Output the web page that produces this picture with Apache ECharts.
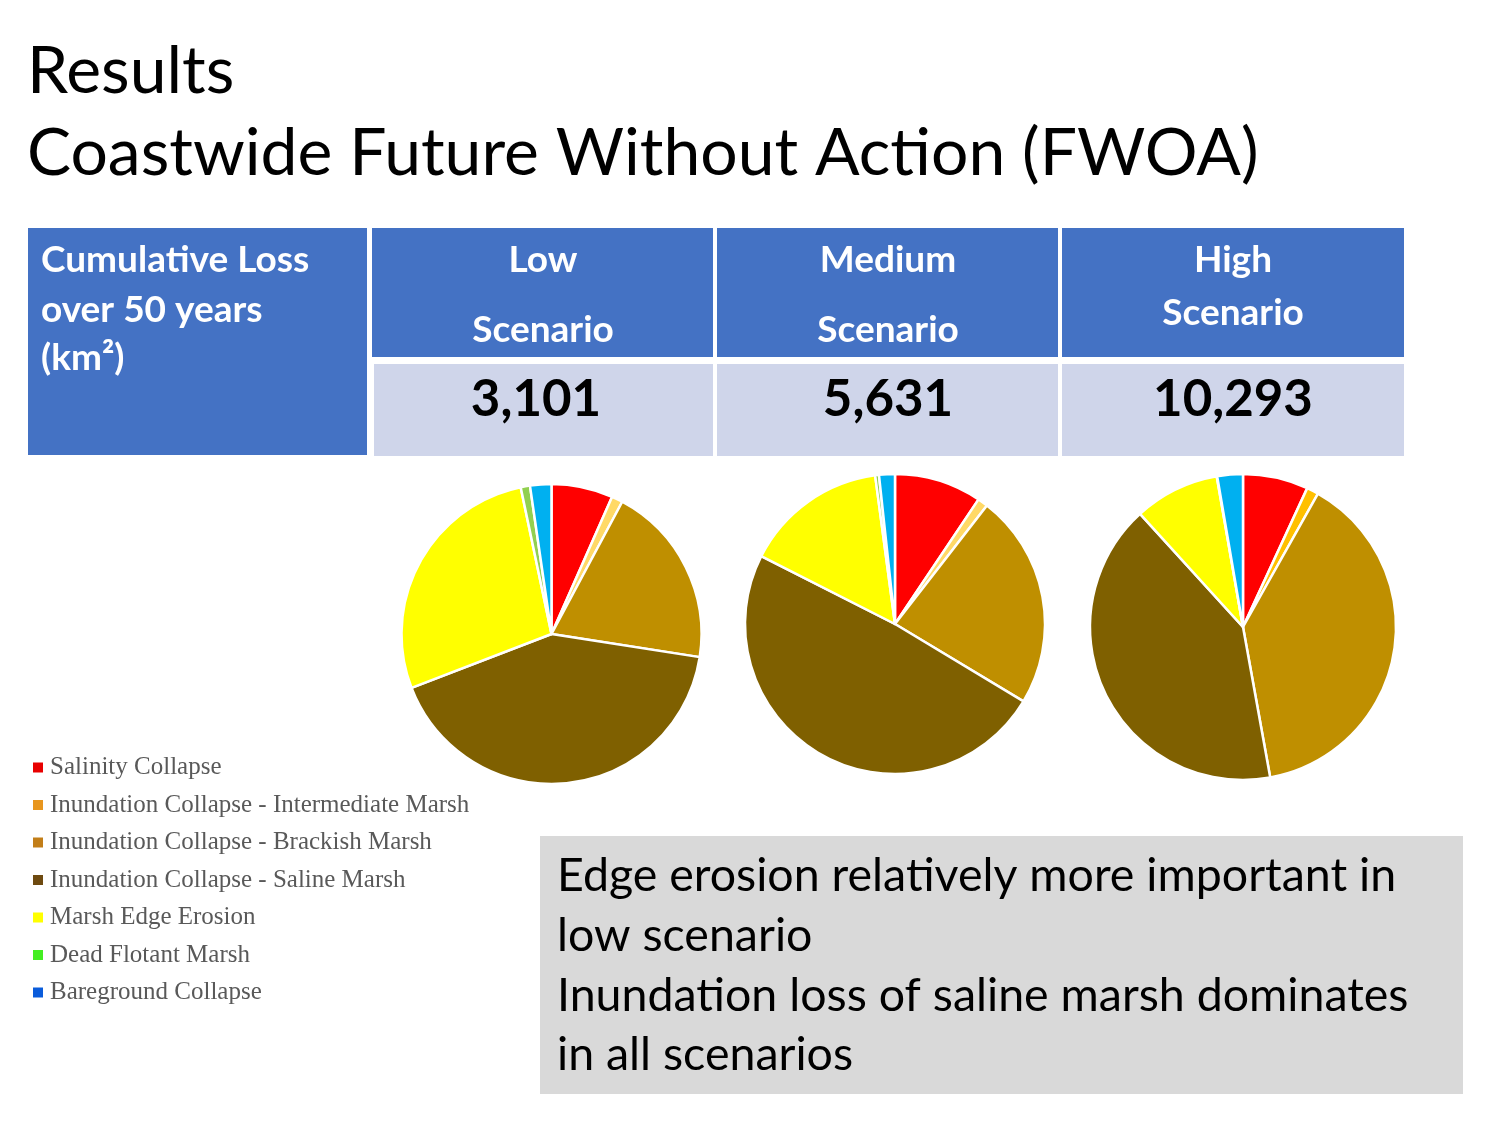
<!DOCTYPE html>
<html>
<head>
<meta charset="utf-8">
<script src="https://cdn.jsdelivr.net/npm/echarts@6/dist/echarts.min.js"></script>
<style>
  html, body { margin: 0; padding: 0; background: #fff; }
  #main { width: 1500px; height: 1125px; }
</style>
</head>
<body>
<div id="main"></div>
<script>
// loss categories and km2 per scenario
var categories = ['Salinity Collapse', 'Inundation Collapse - Intermediate Marsh', 'Inundation Collapse - Brackish Marsh',
    'Inundation Collapse - Saline Marsh', 'Marsh Edge Erosion', 'Dead Flotant Marsh', 'Bareground Collapse'];
var scenarios = ['Low', 'Medium', 'High'];
var totals = ['3,101', '5,631', '10,293'];
var lowLoss = [205, 37, 608, 1290, 853, 31, 71];
var mediumLoss = [529, 62, 1301, 2748, 867, 23, 96];
var highLoss = [710, 129, 4014, 4230, 926, 5, 278];

var pieColors = ['#FF0000', '#FFD966', '#BF8F00', '#7F6000', '#FFFF00', '#92D050', '#00B0F0'];
var legendColors = ['#E80000', '#E8961E', '#C27E18', '#6E4A10', '#FFFF00', '#44EE22', '#0A5CDB'];

var titleFont = 'Lato';
var blue = '#4472C4';
var lavender = '#CFD5EA';

function pieData(values, lightColor) {
    var arr = [];
    for (var i = 0; i < categories.length; i++) {
        var c = pieColors[i];
        if (i == 1 && lightColor) c = lightColor;
        arr.push({ name: categories[i], value: values[i], itemStyle: { color: c } });
    }
    return arr;
}

function txt(x, y, text, size, opts) {
    opts = opts || {};
    return {
        type: 'text',
        x: x,
        y: y,
        style: {
            text: text,
            fill: opts.color || '#000',
            font: (opts.bold ? 'bold ' : '') + size + 'px ' + (opts.family || titleFont),
            textAlign: opts.align || 'left',
            align: opts.align || 'left',
            textVerticalAlign: 'middle',
            verticalAlign: 'middle'
        }
    };
}

var chart = echarts.init(document.getElementById('main'));

var legendData = [];
for (var i = 0; i < categories.length; i++) {
    legendData.push({ name: categories[i], itemStyle: { color: legendColors[i] } });
}

var hdr = 37;
var graphics = [
    txt(27, 72, 'Results', 66),
    txt(27, 154, 'Coastwide Future Without Action (FWOA)', 66),
    // table
    { type: 'rect', shape: { x: 28, y: 228, width: 339, height: 227 }, style: { fill: blue } },
    { type: 'rect', shape: { x: 372, y: 228, width: 341, height: 129 }, style: { fill: blue } },
    { type: 'rect', shape: { x: 717, y: 228, width: 341, height: 129 }, style: { fill: blue } },
    { type: 'rect', shape: { x: 1062, y: 228, width: 342, height: 129 }, style: { fill: blue } },
    { type: 'rect', shape: { x: 374, y: 364, width: 339, height: 92 }, style: { fill: lavender } },
    { type: 'rect', shape: { x: 717, y: 364, width: 341, height: 92 }, style: { fill: lavender } },
    { type: 'rect', shape: { x: 1062, y: 364, width: 342, height: 92 }, style: { fill: lavender } },
    txt(41, 260, 'Cumulative Loss', hdr, { bold: true, color: '#fff' }),
    txt(41, 310, 'over 50 years', hdr, { bold: true, color: '#fff' }),
    txt(41, 358, '(km\u00B2)', hdr, { bold: true, color: '#fff' }),
    txt(543, 260, scenarios[0], hdr, { bold: true, color: '#fff', align: 'center' }),
    txt(543, 330, 'Scenario', hdr, { bold: true, color: '#fff', align: 'center' }),
    txt(888, 260, scenarios[1], hdr, { bold: true, color: '#fff', align: 'center' }),
    txt(888, 330, 'Scenario', hdr, { bold: true, color: '#fff', align: 'center' }),
    txt(1233, 260, scenarios[2], hdr, { bold: true, color: '#fff', align: 'center' }),
    txt(1233, 313, 'Scenario', hdr, { bold: true, color: '#fff', align: 'center' }),
    txt(536, 400, totals[0], 51, { bold: true, align: 'center' }),
    txt(888, 400, totals[1], 51, { bold: true, align: 'center' }),
    txt(1233, 400, totals[2], 51, { bold: true, align: 'center' }),
    // note box
    { type: 'rect', shape: { x: 540, y: 836, width: 923, height: 258 }, style: { fill: '#D9D9D9' } },
    txt(557, 876, 'Edge erosion relatively more important in', 46.5),
    txt(557, 936, 'low scenario', 46.5),
    txt(557, 996, 'Inundation loss of saline marsh dominates', 46.5),
    txt(557, 1055, 'in all scenarios', 46.5)
];

var pieBase = {
    type: 'pie',
    startAngle: 90,
    clockwise: true,
    label: { show: false },
    labelLine: { show: false },
    emphasis: { disabled: true },
    animation: false,
    itemStyle: { borderColor: '#fff', borderWidth: 2.5 }
};

var option = {
    animation: false,
    legend: {
        orient: 'vertical',
        left: 26,
        top: 750,
        icon: 'rect',
        itemWidth: 12,
        itemHeight: 12,
        itemGap: 12.5,
        selectedMode: false,
        data: legendData,
        textStyle: { fontFamily: 'Liberation Serif', fontSize: 25, color: '#595959', padding: [0, 0, 0, 1] }
    },
    graphic: graphics,
    series: [
        Object.assign({}, pieBase, { name: scenarios[0], center: [551.5, 634], radius: 150, data: pieData(lowLoss) }),
        Object.assign({}, pieBase, { name: scenarios[1], center: [895, 624], radius: 150, data: pieData(mediumLoss) }),
        Object.assign({}, pieBase, { name: scenarios[2], center: [1243, 627], radius: 153, data: pieData(highLoss, '#FFC000') })
    ]
};
chart.setOption(option);
</script>
</body>
</html>
